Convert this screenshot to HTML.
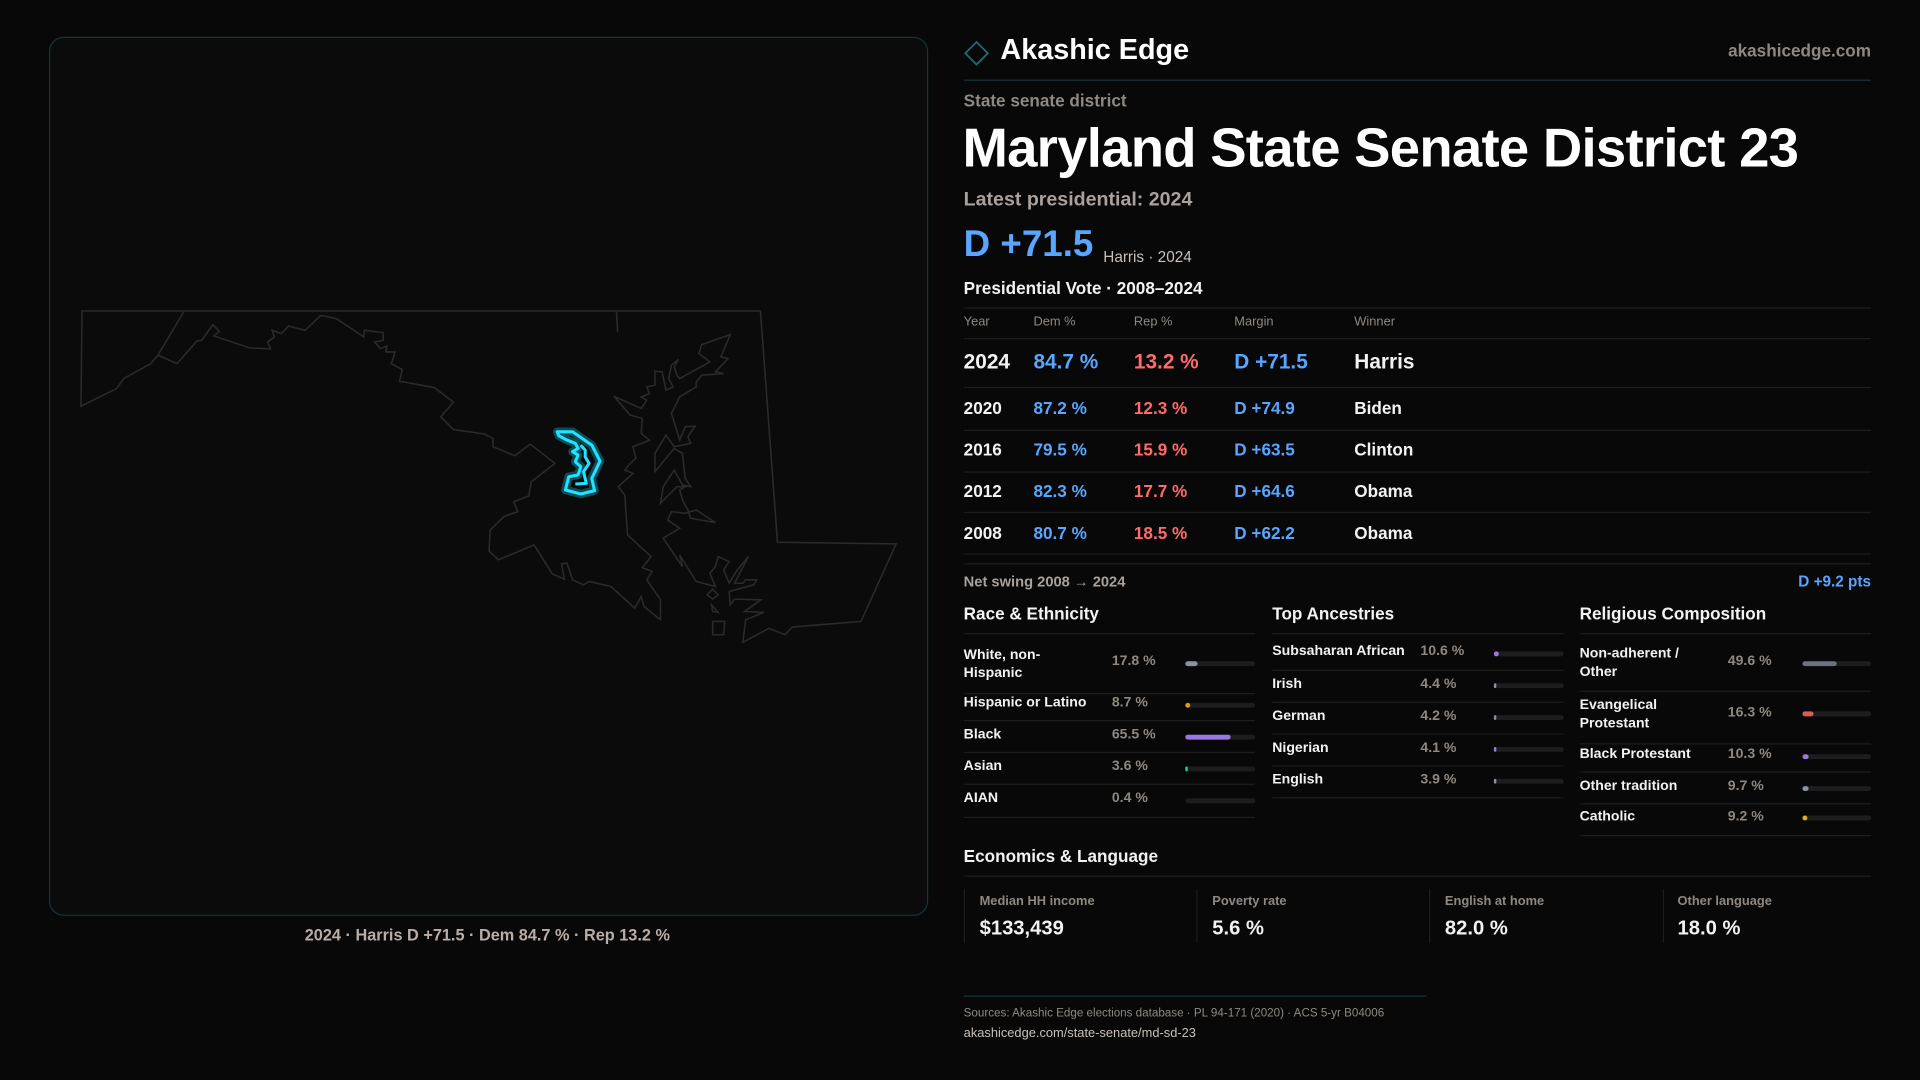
<!DOCTYPE html>
<html><head><meta charset="utf-8"><style>
html,body{margin:0;padding:0;background:#080808;width:1920px;height:1080px;overflow:hidden}
#w{position:absolute;left:0;top:0;width:1568px;height:882px;transform:scale(1.22449);transform-origin:0 0;font-family:"Liberation Sans",sans-serif;color:#f2f2f2}
.a{position:absolute;white-space:nowrap;line-height:1}
.g{color:#8f8882}
.b{color:#5aa5ff}.r{color:#ff6b6b}
.hl{position:absolute;height:1px;background:#1e1e1e}
.bar{position:absolute;height:4px;border-radius:2px;background:#1d1d20}
.bar i{position:absolute;left:0;top:0;height:4px;border-radius:2px}
</style></head><body><div id="w">
<div style="position:absolute;left:40px;top:30px;width:716px;height:716px;border:1px solid #16343a;border-radius:12px;background:#0b0b0c"></div>
<svg style="position:absolute;left:0;top:0" width="1568" height="882" viewBox="0 0 1568 882">
<g transform="matrix(0.4486,0,0,0.2717,48.16,237.15)" fill="none" stroke="#2a2a2c" stroke-width="1.3" vector-effect="non-scaling-stroke">
<path vector-effect="non-scaling-stroke" d="M42,62 L1277,62 L1308,757 L1524,762 L1460,995 L1335,1012 L1322,1035 L1292,1016 L1245,1058 L1250,990 L1283,968 L1248,965 L1278,930 L1230,928 L1222,945 L1220,905 L1265,885 L1270,870 L1250,870 L1245,880 L1230,880 L1255,800 L1235,840 L1220,880 L1210,840 L1220,815 L1200,800 L1195,830 L1185,850 L1195,890 L1160,875 L1130,795 L1135,830 L1100,745 L1130,715 L1108,690 L1115,665 L1140,670 L1160,660 L1195,698 L1150,685 L1145,660 L1135,630 L1130,600 L1140,590 L1125,590 L1095,640 L1100,590 L1120,540 L1135,585 L1150,590 L1140,565 L1135,490 L1120,475 L1085,545 L1085,490 L1105,435 L1120,470 L1150,460 L1145,440 L1158,408 L1140,410 L1130,450 L1115,370 L1130,320 L1160,290 L1160,275 L1170,255 L1210,250 L1195,245 L1218,205 L1205,200 L1222,133 L1170,163 L1165,190 L1185,215 L1130,265 L1125,255 L1120,230 L1128,207 L1115,225 L1110,265 L1118,290 L1105,300 L1098,245 L1085,243 L1085,285 L1070,290 L1075,310 L1060,320 L1070,330 L1060,355 L1010,318 L1040,375 L1062,385 L1060,430 L1075,450 L1045,470 L1050,505 L1040,520 L1030,540 L1045,550 L1018,590 L1030,615 L1035,735 L1078,800 L1062,833 L1080,845 L1070,870 L1095,930 L1095,990 L1065,950 L1060,920 L1048,955 L1005,890 L965,875 L955,885 L935,870 L925,820 L915,822 L920,868 L898,852 L865,765 L800,810 L783,783 L785,720 L810,680 L835,665 L828,635 L855,618 L860,575 L903,520 L858,462 L830,497 L790,470 L790,445 L775,432 L718,418 L695,380 L718,336 L683,292 L620,273 L625,238 L605,220 L612,185 L595,185 L597,167 L585,175 L575,155 L590,150 L590,127 L556,120 L555,140 L505,85 L477,75 L448,120 L418,107 L405,130 L388,120 L392,140 L380,155 L385,176 L348,173 L282,137 L292,123 L280,103 L260,150 L251,152 L215,220 L180,195 L167,220 L118,265 L105,295 L40,348 Z M227,65 L180,195 M1015,65 L1017,125 M1190,995 L1212,995 L1210,1035 L1190,1035 Z M1180,915 L1190,898 L1200,915 L1190,928 Z M1188,945 L1200,968 L1190,965 Z"/>
<path vector-effect="non-scaling-stroke" stroke="#0e4a55" stroke-width="7" stroke-linejoin="round" d="M907,425 L935,425 L970,465 L985,513 L970,565 L975,602 L950,612 L922,600 L928,560 L945,555 L950,530 L940,515 L945,495 L935,485 L945,475 L940,460 L925,450 L910,437 Z"/>
<path vector-effect="non-scaling-stroke" stroke="#1fe3ff" stroke-width="2.5" stroke-linejoin="round" d="M907,425 L935,425 L970,465 L985,513 L970,565 L975,602 L950,612 L922,600 L928,560 L945,555 L950,530 L940,515 L945,495 L935,485 L945,475 L940,460 L925,450 L910,437 Z M950,465 L958,480 L958,500 L965,520 L955,545 L960,580 L940,582"/>
</g>
<rect x="791" y="37" width="13" height="13" transform="rotate(45 797.5 43.5)" fill="none" stroke="#1b6b73" stroke-width="1.5"/>
</svg>
<div class="a" style="left:398px;top:757px;transform:translateX(-50%);font-size:13.3px;font-weight:bold;color:#b8aea7">2024 · Harris D +71.5 · Dem 84.7 % · Rep 13.2 %</div>

<div class="a" style="left:817px;top:29px;font-size:23.5px;font-weight:bold;color:#fff">Akashic Edge</div>
<div class="a g" style="right:40px;top:34px;font-size:14px;font-weight:bold">akashicedge.com</div>
<div class="hl" style="left:787px;width:741px;top:65px;background:#15363a"></div>
<div class="a g" style="left:787px;top:75px;font-size:14px;font-weight:bold">State senate district</div>
<div class="a" style="left:786px;top:100px;font-size:44.5px;font-weight:bold;color:#fff;letter-spacing:-0.6px">Maryland State Senate District 23</div>
<div class="a" style="left:787px;top:156px;font-size:16px;font-weight:bold;color:#a9a19b">Latest presidential: 2024</div>
<div class="a b" style="left:787px;top:185px;font-size:30px;font-weight:bold">D +71.5</div>
<div class="a" style="left:901px;top:204px;font-size:12.5px;color:#c8c0ba">Harris · 2024</div>
<div class="a" style="left:787px;top:228px;font-size:14px;font-weight:bold">Presidential Vote · 2008–2024</div>
<div class="hl" style="left:787px;width:741px;top:251px"></div>
<div class="a g" style="left:787px;top:258px;font-size:10.5px">Year</div>
<div class="a g" style="left:844px;top:258px;font-size:10.5px">Dem %</div>
<div class="a g" style="left:926px;top:258px;font-size:10.5px">Rep %</div>
<div class="a g" style="left:1008px;top:258px;font-size:10.5px">Margin</div>
<div class="a g" style="left:1106px;top:258px;font-size:10.5px">Winner</div>
<div class="hl" style="left:787px;width:741px;top:276px"></div>
<div class="a" style="left:787px;top:287px;font-size:17px;font-weight:bold">2024</div>
<div class="a b" style="left:844px;top:287px;font-size:17px;font-weight:bold">84.7 %</div>
<div class="a r" style="left:926px;top:287px;font-size:17px;font-weight:bold">13.2 %</div>
<div class="a b" style="left:1008px;top:287px;font-size:17px;font-weight:bold">D +71.5</div>
<div class="a" style="left:1106px;top:287px;font-size:17px;font-weight:bold">Harris</div>
<div class="hl" style="left:787px;width:741px;top:316px"></div>
<div style="position:absolute;left:787px;top:326px;font-size:14px;font-weight:bold">
<div class="a" style="left:0;top:0">2020</div><div class="a b" style="left:57px;top:0">87.2 %</div><div class="a r" style="left:139px;top:0">12.3 %</div><div class="a b" style="left:221px;top:0">D +74.9</div><div class="a" style="left:319px;top:0">Biden</div>
<div class="a" style="left:0;top:34px">2016</div><div class="a b" style="left:57px;top:34px">79.5 %</div><div class="a r" style="left:139px;top:34px">15.9 %</div><div class="a b" style="left:221px;top:34px">D +63.5</div><div class="a" style="left:319px;top:34px">Clinton</div>
<div class="a" style="left:0;top:68px">2012</div><div class="a b" style="left:57px;top:68px">82.3 %</div><div class="a r" style="left:139px;top:68px">17.7 %</div><div class="a b" style="left:221px;top:68px">D +64.6</div><div class="a" style="left:319px;top:68px">Obama</div>
<div class="a" style="left:0;top:102px">2008</div><div class="a b" style="left:57px;top:102px">80.7 %</div><div class="a r" style="left:139px;top:102px">18.5 %</div><div class="a b" style="left:221px;top:102px">D +62.2</div><div class="a" style="left:319px;top:102px">Obama</div>
</div>
<div class="hl" style="left:787px;width:741px;top:351px"></div>
<div class="hl" style="left:787px;width:741px;top:385px"></div>
<div class="hl" style="left:787px;width:741px;top:418px"></div>
<div class="hl" style="left:787px;width:741px;top:452px"></div>
<div class="hl" style="left:787px;width:741px;top:460px"></div>
<div class="a" style="left:787px;top:469px;font-size:12px;color:#a9a19b;font-weight:bold">Net swing 2008 → 2024</div>
<div class="a b" style="right:40px;top:469px;font-size:12.5px;font-weight:bold">D +9.2 pts</div>

<div class="a" style="left:787px;top:494px;font-size:14px;font-weight:bold">Race &amp; Ethnicity</div>
<div class="a" style="left:1039px;top:494px;font-size:14px;font-weight:bold">Top Ancestries</div>
<div class="a" style="left:1290px;top:494px;font-size:14px;font-weight:bold">Religious Composition</div>
<div class="hl" style="left:787px;width:238px;top:517px"></div>
<div class="hl" style="left:1039px;width:238px;top:517px"></div>
<div class="hl" style="left:1290px;width:238px;top:517px"></div>

<div style="font-size:11.5px;font-weight:bold">
<div class="a" style="left:787px;top:528px;line-height:15px">White, non-<br>Hispanic</div><div class="a g" style="left:908px;top:535px">17.8 %</div><div class="bar" style="left:968px;top:540px;width:57px"><i style="width:10px;background:#8a93a0"></i></div>
<div class="hl" style="left:787px;width:238px;top:566px"></div>
<div class="a" style="left:787px;top:569px">Hispanic or Latino</div><div class="a g" style="left:908px;top:569px">8.7 %</div><div class="bar" style="left:968px;top:574px;width:57px"><i style="width:4px;background:#e39a1c"></i></div>
<div class="hl" style="left:787px;width:238px;top:588px"></div>
<div class="a" style="left:787px;top:595px">Black</div><div class="a g" style="left:908px;top:595px">65.5 %</div><div class="bar" style="left:968px;top:600px;width:57px"><i style="width:37px;background:#9a78e0"></i></div>
<div class="hl" style="left:787px;width:238px;top:614px"></div>
<div class="a" style="left:787px;top:621px">Asian</div><div class="a g" style="left:908px;top:621px">3.6 %</div><div class="bar" style="left:968px;top:626px;width:57px"><i style="width:2px;background:#2bc99a"></i></div>
<div class="hl" style="left:787px;width:238px;top:640px"></div>
<div class="a" style="left:787px;top:647px">AIAN</div><div class="a g" style="left:908px;top:647px">0.4 %</div><div class="bar" style="left:968px;top:652px;width:57px"></div>
<div class="hl" style="left:787px;width:238px;top:667px"></div>

<div class="a" style="left:1039px;top:527px">Subsaharan African</div><div class="a g" style="left:1160px;top:527px">10.6 %</div><div class="bar" style="left:1220px;top:532px;width:57px"><i style="width:4px;background:#9a78e0"></i></div>
<div class="hl" style="left:1039px;width:238px;top:547px"></div>
<div class="a" style="left:1039px;top:554px">Irish</div><div class="a g" style="left:1160px;top:554px">4.4 %</div><div class="bar" style="left:1220px;top:558px;width:57px"><i style="width:2px;background:#8a93a0"></i></div>
<div class="hl" style="left:1039px;width:238px;top:573px"></div>
<div class="a" style="left:1039px;top:580px">German</div><div class="a g" style="left:1160px;top:580px">4.2 %</div><div class="bar" style="left:1220px;top:584px;width:57px"><i style="width:2px;background:#8a93a0"></i></div>
<div class="hl" style="left:1039px;width:238px;top:599px"></div>
<div class="a" style="left:1039px;top:606px">Nigerian</div><div class="a g" style="left:1160px;top:606px">4.1 %</div><div class="bar" style="left:1220px;top:610px;width:57px"><i style="width:2px;background:#9a78e0"></i></div>
<div class="hl" style="left:1039px;width:238px;top:625px"></div>
<div class="a" style="left:1039px;top:632px">English</div><div class="a g" style="left:1160px;top:632px">3.9 %</div><div class="bar" style="left:1220px;top:636px;width:57px"><i style="width:2px;background:#8a93a0"></i></div>
<div class="hl" style="left:1039px;width:238px;top:651px"></div>

<div class="a" style="left:1290px;top:527px;line-height:15px">Non-adherent /<br>Other</div><div class="a g" style="left:1411px;top:535px">49.6 %</div><div class="bar" style="left:1472px;top:540px;width:56px"><i style="width:28px;background:#6d7282"></i></div>
<div class="hl" style="left:1290px;width:238px;top:564px"></div>
<div class="a" style="left:1290px;top:569px;line-height:15px">Evangelical<br>Protestant</div><div class="a g" style="left:1411px;top:577px">16.3 %</div><div class="bar" style="left:1472px;top:581px;width:56px"><i style="width:9px;background:#e05858"></i></div>
<div class="hl" style="left:1290px;width:238px;top:607px"></div>
<div class="a" style="left:1290px;top:611px">Black Protestant</div><div class="a g" style="left:1411px;top:611px">10.3 %</div><div class="bar" style="left:1472px;top:616px;width:56px"><i style="width:5px;background:#9a78e0"></i></div>
<div class="hl" style="left:1290px;width:238px;top:630px"></div>
<div class="a" style="left:1290px;top:637px">Other tradition</div><div class="a g" style="left:1411px;top:637px">9.7 %</div><div class="bar" style="left:1472px;top:642px;width:56px"><i style="width:5px;background:#8a93a0"></i></div>
<div class="hl" style="left:1290px;width:238px;top:656px"></div>
<div class="a" style="left:1290px;top:662px">Catholic</div><div class="a g" style="left:1411px;top:662px">9.2 %</div><div class="bar" style="left:1472px;top:666px;width:56px"><i style="width:4px;background:#e0ae1c"></i></div>
<div class="hl" style="left:1290px;width:238px;top:682px"></div>
</div>

<div class="a" style="left:787px;top:692px;font-size:14px;font-weight:bold">Economics &amp; Language</div>
<div class="hl" style="left:787px;width:741px;top:715px"></div>
<div style="position:absolute;left:787px;top:726px;width:1px;height:44px;background:#1c1c1c"></div>
<div style="position:absolute;left:977px;top:726px;width:1px;height:44px;background:#1c1c1c"></div>
<div style="position:absolute;left:1167px;top:726px;width:1px;height:44px;background:#1c1c1c"></div>
<div style="position:absolute;left:1358px;top:726px;width:1px;height:44px;background:#1c1c1c"></div>
<div class="a g" style="left:800px;top:731px;font-size:10.5px;font-weight:bold">Median HH income</div>
<div class="a g" style="left:990px;top:731px;font-size:10.5px;font-weight:bold">Poverty rate</div>
<div class="a g" style="left:1180px;top:731px;font-size:10.5px;font-weight:bold">English at home</div>
<div class="a g" style="left:1370px;top:731px;font-size:10.5px;font-weight:bold">Other language</div>
<div class="a" style="left:800px;top:750px;font-size:16.5px;font-weight:bold">$133,439</div>
<div class="a" style="left:990px;top:750px;font-size:16.5px;font-weight:bold">5.6 %</div>
<div class="a" style="left:1180px;top:750px;font-size:16.5px;font-weight:bold">82.0 %</div>
<div class="a" style="left:1370px;top:750px;font-size:16.5px;font-weight:bold">18.0 %</div>

<div class="hl" style="left:787px;width:378px;top:813px;background:#14363b"></div>
<div class="a g" style="left:787px;top:823px;font-size:9.5px">Sources: Akashic Edge elections database · PL 94-171 (2020) · ACS 5-yr B04006</div>
<div class="a" style="left:787px;top:839px;font-size:10.5px;color:#c8c0ba">akashicedge.com/state-senate/md-sd-23</div>
</div></body></html>
